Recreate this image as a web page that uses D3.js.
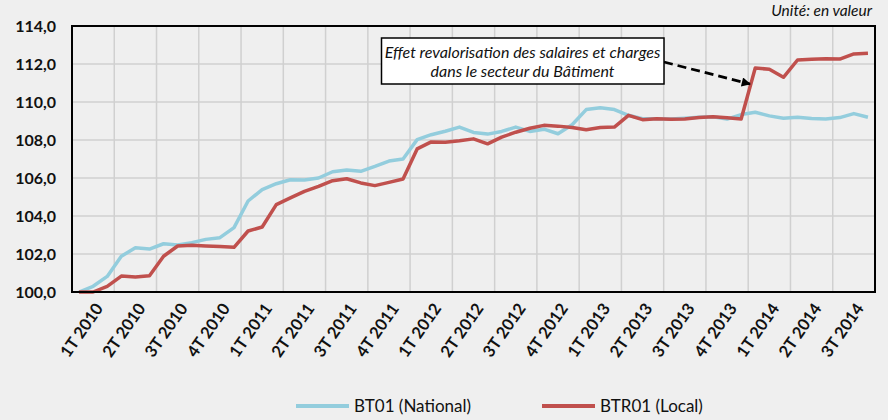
<!DOCTYPE html>
<html>
<head>
<meta charset="utf-8">
<script src="https://cdn.jsdelivr.net/npm/d3@7"></script>
<style>
  body { margin: 0; background: #efefef; }
  svg { display: block; font-family: Lato, "Open Sans", sans-serif; }
</style>
</head>
<body>
<div id="chart"></div>
<script>
const quarters = ["1T 2010", "2T 2010", "3T 2010", "4T 2010", "1T 2011", "2T 2011", "3T 2011", "4T 2011",
  "1T 2012", "2T 2012", "3T 2012", "4T 2012", "1T 2013", "2T 2013", "3T 2013", "4T 2013",
  "1T 2014", "2T 2014", "3T 2014"];

// monthly values, 3 per quarter
const bt01 = [100.0, 100.3, 100.82, 101.88, 102.33, 102.26, 102.54, 102.47, 102.6, 102.77, 102.86, 103.39,
  104.79, 105.39, 105.7, 105.91, 105.89, 106.0, 106.33, 106.42, 106.35, 106.61, 106.89, 107.0,
  108.02, 108.28, 108.46, 108.68, 108.4, 108.31, 108.45, 108.68, 108.45, 108.57, 108.33, 108.8,
  109.6, 109.7, 109.6, 109.3, 109.12, 109.12, 109.1, 109.15, 109.2, 109.22, 109.1, 109.34,
  109.46, 109.27, 109.15, 109.2, 109.13, 109.11, 109.18, 109.39, 109.2];
const btr01 = [100.0, 100.0, 100.3, 100.84, 100.79, 100.86, 101.88, 102.42, 102.46, 102.42, 102.39, 102.35,
  103.21, 103.42, 104.6, 104.95, 105.3, 105.56, 105.86, 105.96, 105.74, 105.6, 105.77, 105.95,
  107.53, 107.9, 107.88, 107.96, 108.06, 107.8, 108.15, 108.41, 108.62, 108.77, 108.73, 108.66,
  108.54, 108.66, 108.68, 109.3, 109.07, 109.12, 109.09, 109.11, 109.18, 109.22, 109.17, 109.11,
  111.79, 111.72, 111.3, 112.21, 112.25, 112.28, 112.26, 112.53, 112.56];
const yTicks = [100, 102, 104, 106, 108, 110, 112, 114];

const seriesNames = ["BT01 (National)", "BTR01 (Local)"];
const colors = ["#93cddd", "#c0504d"];

const W = 888, H = 420;
const plot = { left: 72, right: 875, top: 26, bottom: 292 };

const svg = d3.select("#chart").append("svg")
  .attr("width", W)
  .attr("height", H);

svg.append("rect").attr("width", W).attr("height", H).attr("fill", "#efefef");

const xq = d3.scaleBand().domain(quarters).range([plot.left, plot.right]);
const xm = d3.scaleBand().domain(d3.range(bt01.length)).range([plot.left, plot.right]);
const y = d3.scaleLinear().domain([100, 114]).range([plot.bottom, plot.top]);

// grid
svg.append("g").selectAll("line")
  .data(yTicks.slice(1, -1))
  .join("line")
  .attr("x1", plot.left).attr("x2", plot.right)
  .attr("y1", d => y(d)).attr("y2", d => y(d))
  .attr("stroke", "#d0d0d0").attr("stroke-width", 1.5);

svg.append("g").selectAll("line")
  .data(quarters.slice(1))
  .join("line")
  .attr("x1", d => xq(d)).attr("x2", d => xq(d))
  .attr("y1", plot.top).attr("y2", plot.bottom)
  .attr("stroke", "#d0d0d0").attr("stroke-width", 1.5);

// y labels
svg.append("g").selectAll("text")
  .data(yTicks)
  .join("text")
  .attr("x", 56)
  .attr("y", d => y(d))
  .attr("dy", "0.36em")
  .attr("text-anchor", "end")
  .attr("font-size", 16)
  .attr("font-weight", "bold")
  .attr("fill", "#111")
  .text(d => d3.format(".1f")(d).replace(".", ","));

// x labels
svg.append("g").selectAll("text")
  .data(quarters)
  .join("text")
  .attr("transform", d => `translate(${xq(d) + xq.bandwidth() / 2 + 6},${plot.bottom + 13}) rotate(-55)`)
  .attr("dy", "0.35em")
  .attr("text-anchor", "end")
  .attr("font-size", 16.5)
  .attr("font-weight", "bold")
  .attr("fill", "#111")
  .text(d => d);

// lines
const line = d3.line()
  .x((d, i) => xm(i) + xm.bandwidth() / 2)
  .y(d => y(d));

[bt01, btr01].forEach((s, k) => {
  svg.append("path")
    .datum(s)
    .attr("fill", "none")
    .attr("stroke", colors[k])
    .attr("stroke-width", 3.5)
    .attr("stroke-linejoin", "round")
    .attr("d", line);
});

// plot border
svg.append("rect")
  .attr("x", plot.left).attr("y", plot.top)
  .attr("width", plot.right - plot.left).attr("height", plot.bottom - plot.top)
  .attr("fill", "none").attr("stroke", "#000").attr("stroke-width", 2);

// unit
svg.append("text")
  .attr("x", 872).attr("y", 16)
  .attr("text-anchor", "end")
  .attr("font-size", 15.5)
  .attr("font-style", "italic")
  .attr("fill", "#111")
  .text("Unité: en valeur");

// annotation
svg.append("defs").append("marker")
  .attr("id", "arrow")
  .attr("viewBox", "0 0 10 10")
  .attr("refX", 9).attr("refY", 5)
  .attr("markerWidth", 4.2).attr("markerHeight", 3.4)
  .attr("orient", "auto")
  .append("path")
  .attr("d", "M0,0 L10,5 L0,10 Z")
  .attr("fill", "#000");

svg.append("line")
  .attr("x1", 664).attr("y1", 62)
  .attr("x2", 750).attr("y2", 84)
  .attr("stroke", "#000").attr("stroke-width", 2.7)
  .attr("stroke-dasharray", "9,5")
  .attr("marker-end", "url(#arrow)");

svg.append("rect")
  .attr("x", 381.5).attr("y", 38)
  .attr("width", 282.5).attr("height", 46)
  .attr("fill", "#fff").attr("stroke", "#000").attr("stroke-width", 1.5);

const note = svg.append("text")
  .attr("text-anchor", "middle")
  .attr("font-size", 16)
  .attr("font-style", "italic")
  .attr("fill", "#111");
note.append("tspan").attr("x", 522.5).attr("y", 58).text("Effet revalorisation des salaires et charges");
note.append("tspan").attr("x", 522.5).attr("y", 77).text("dans le secteur du Bâtiment");

// legend
const legendX = [296, 542];
seriesNames.forEach((name, k) => {
  svg.append("line")
    .attr("x1", legendX[k]).attr("x2", legendX[k] + 53)
    .attr("y1", 406).attr("y2", 406)
    .attr("stroke", colors[k]).attr("stroke-width", 4);
  svg.append("text")
    .attr("x", legendX[k] + 58).attr("y", 406)
    .attr("dy", "0.36em")
    .attr("font-size", 17)
    .attr("fill", "#111")
    .text(name);
});
</script>
</body>
</html>
